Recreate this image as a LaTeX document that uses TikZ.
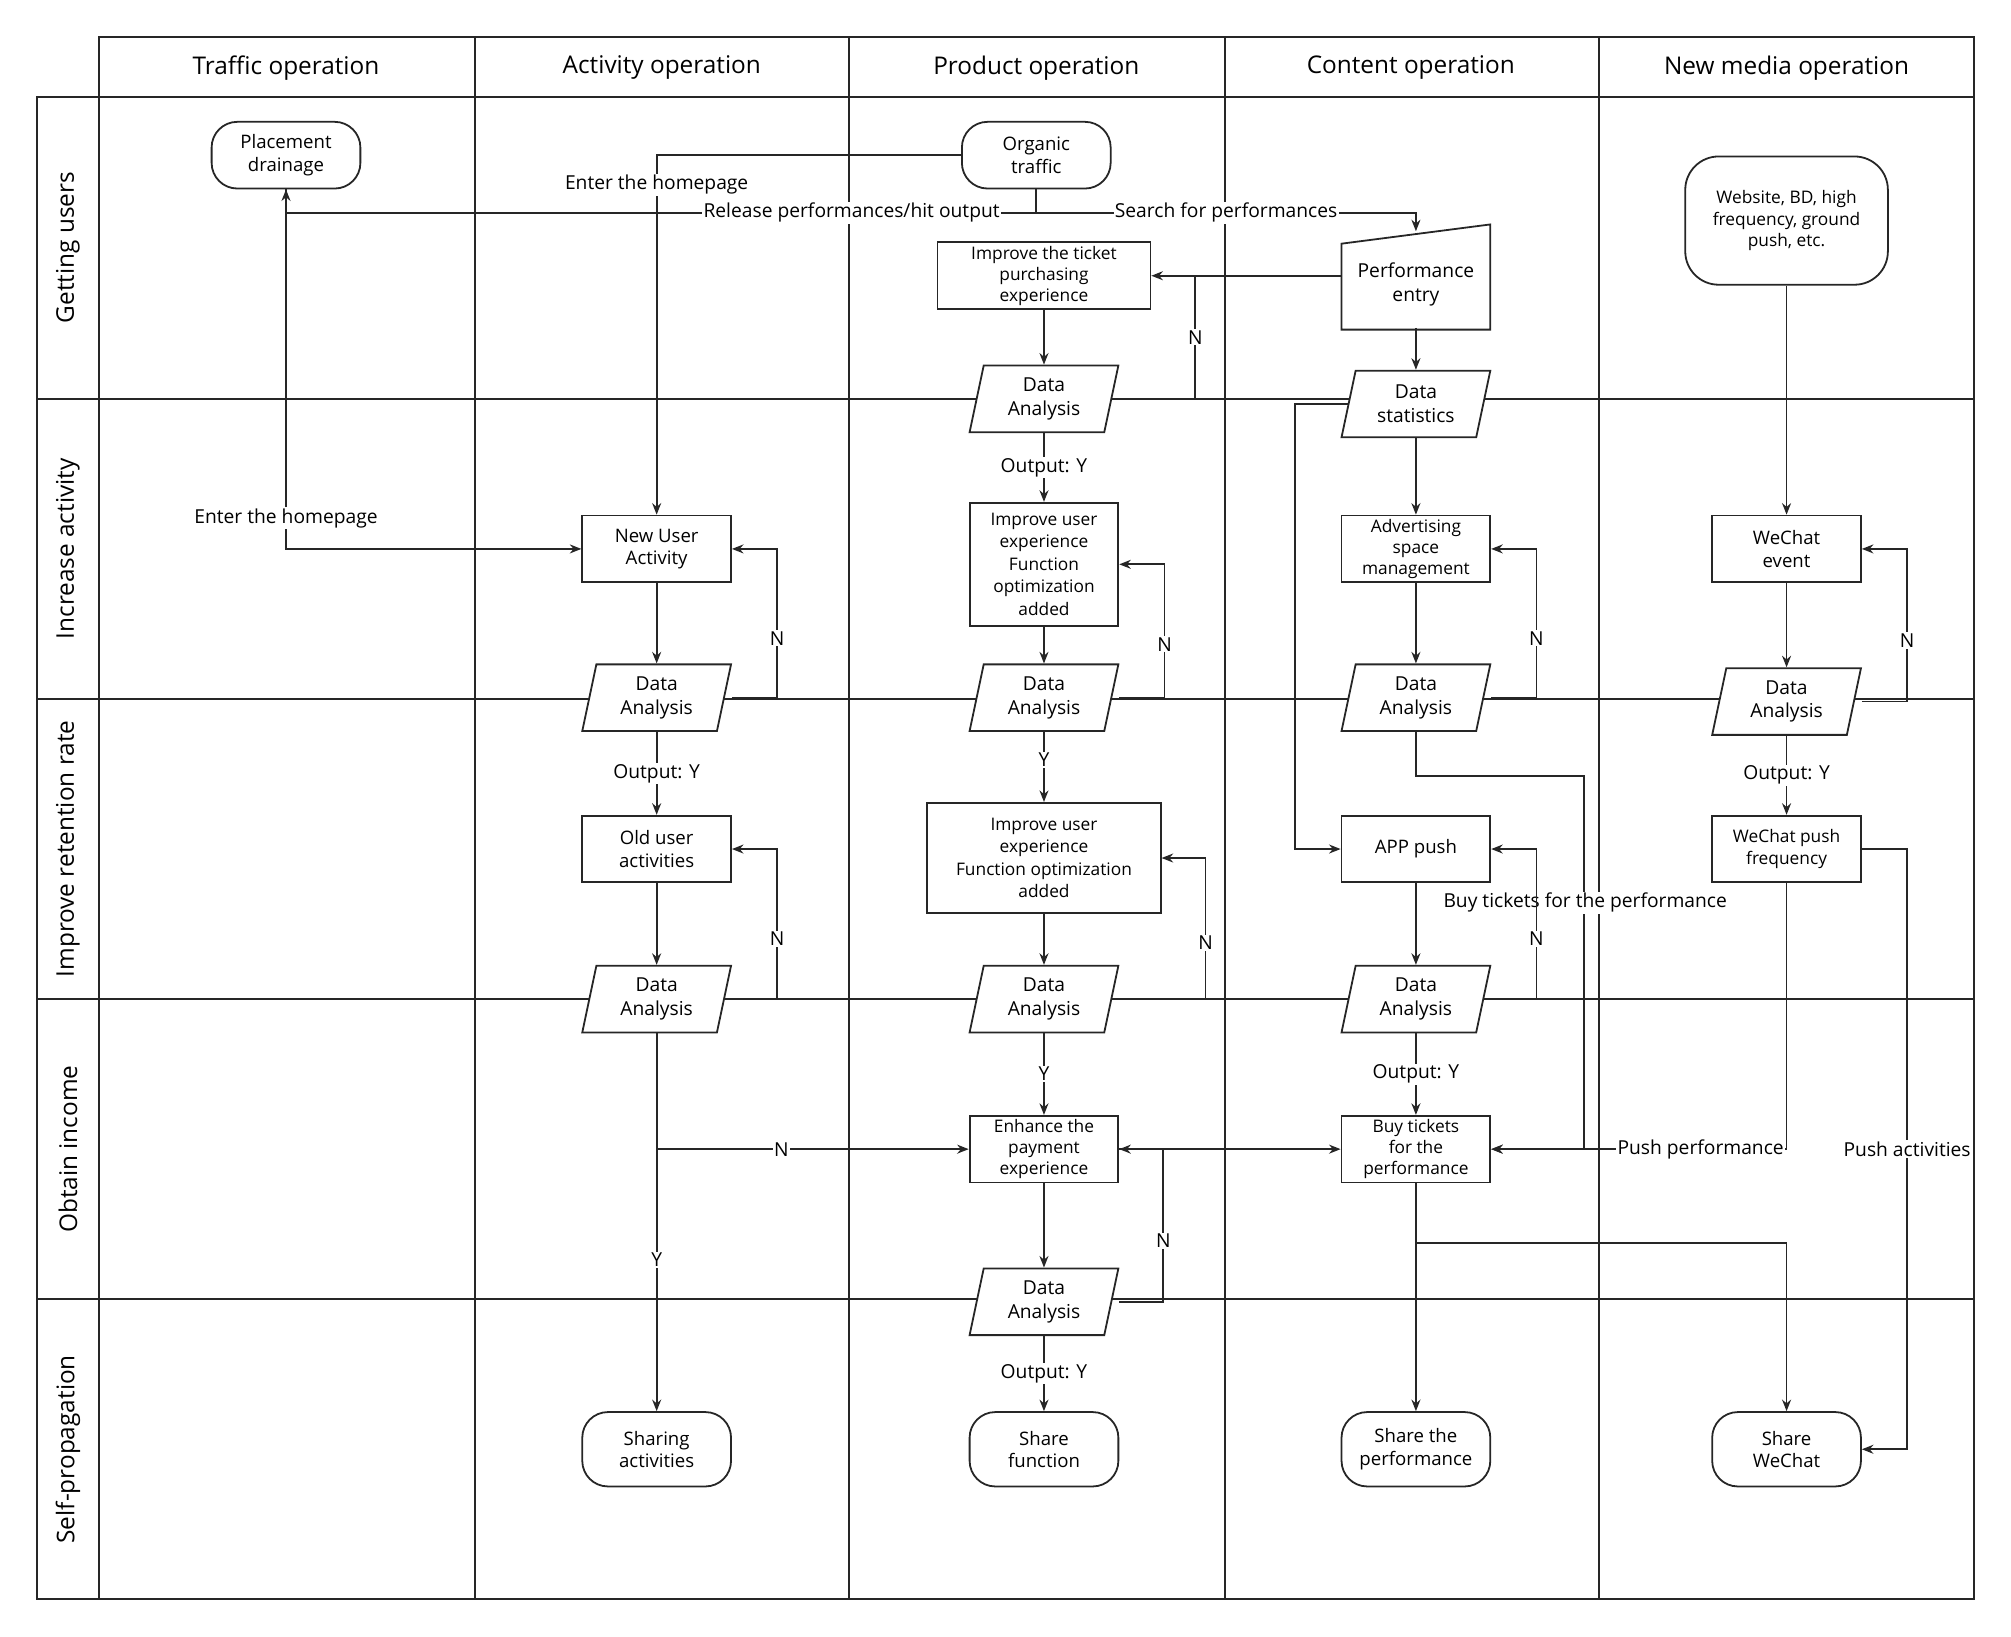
\documentclass[tikz,border=0pt]{standalone}
\usepackage{fontspec}
\setmainfont{Open Sans}
\usetikzlibrary{arrows.meta}
\begin{document}
\begin{tikzpicture}[x=1pt,y=-1pt,
  line width=1.4pt, draw={black!85},
  box/.style={draw,line width=1.4pt,minimum width=116pt,minimum height=52pt,align=center,inner sep=1pt,font=\fontsize{14.5}{17.5}\selectfont},
  term/.style={box,rounded corners=20pt},
  ghost/.style={minimum width=116pt,minimum height=52pt,align=center,inner sep=0pt,font=\fontsize{15}{18.5}\selectfont},
  arr/.style={-{Stealth[length=9pt,width=7pt]},line width=1.4pt},
  lab/.style={fill=white,inner sep=1pt,font=\fontsize{15}{18}\selectfont},
  hdr/.style={font=\fontsize{19}{22}\selectfont},
]
\useasboundingbox (0,0) rectangle (1568,1276);
% grid
\draw[line width=1.6pt] (77,29) rectangle (1539,1247);
\draw[line width=1.6pt] (29,76) rectangle (77,1247);
\foreach \x in {370,662,955,1247} \draw[line width=1.6pt] (\x,29) -- (\x,1247);
\foreach \y in {76,311,545,779,1013} \draw[line width=1.6pt] (29,\y) -- (1539,\y);
\node[hdr] (h1) at (223,53) {Traffic operation};
\node[hdr] (h2) at (516,53) {Activity operation};
\node[hdr] (h3) at (808,53) {Product operation};
\node[hdr] (h4) at (1100,53) {Content operation};
\node[hdr] (h5) at (1393,53) {New media operation};
\foreach \y/\t/\n in {193/Getting users/r1,428/Increase activity/r2,662/Improve retention rate/r3,896/Obtain income/r4,1130/Self-propagation/r5}
  \node[hdr,rotate=90] (\n) at (53,\y) {\t};
\newcommand{\para}[4]{%
  \draw[line width=1.4pt,fill=white] (#2-47,#3-26) -- (#2+58,#3-26) -- (#2+47,#3+26) -- (#2-58,#3+26) -- cycle;
  \node[ghost] (#1) at (#2,#3) {#4};}
% nodes
\node[term] (pd) at (223,121) {Placement\\drainage};
\node[term] (ot) at (808,121) {Organic\\traffic};
\node[box,rounded corners=26pt,minimum width=158pt,minimum height=100pt,font=\fontsize{13.5}{16.5}\selectfont] (web) at (1393,172) {Website, BD, high\\frequency, ground\\push, etc.};
\node[box,minimum width=166pt,font=\fontsize{13.5}{16.5}\selectfont] (itp) at (814,215) {Improve the ticket\\purchasing\\experience};
\draw[line width=1.4pt] (1046,190) -- (1162,175) -- (1162,257) -- (1046,257) -- cycle;
\node[ghost,minimum height=74pt] (pe) at (1104,218) {\\Performance\\entry};
\para{da1}{814}{311}{Data\\Analysis}
\para{ds}{1104}{315}{Data\\statistics}
\node[box] (nua) at (512,428) {New User\\Activity};
\node[box,minimum height=96pt,font=\fontsize{13.5}{17.5}\selectfont] (iue1) at (814,440) {Improve user\\experience\\Function\\optimization\\added};
\node[box,font=\fontsize{13.5}{16.5}\selectfont] (asm) at (1104,428) {Advertising\\space\\management};
\node[box] (wce) at (1393,428) {WeChat\\event};
\para{da2}{512}{544}{Data\\Analysis}
\para{da3}{814}{544}{Data\\Analysis}
\para{da4}{1104}{544}{Data\\Analysis}
\para{da5}{1393}{547}{Data\\Analysis}
\node[box] (oua) at (512,662) {Old user\\activities};
\node[box,minimum width=182pt,minimum height=86pt,font=\fontsize{13.5}{17.5}\selectfont] (iue2) at (814,669) {Improve user\\experience\\Function optimization\\added};
\node[box] (app) at (1104,662) {APP push};
\node[box,font=\fontsize{13.5}{16.5}\selectfont] (wpf) at (1393,662) {WeChat push\\frequency};
\para{db2}{512}{779}{Data\\Analysis}
\para{db3}{814}{779}{Data\\Analysis}
\para{db4}{1104}{779}{Data\\Analysis}
\node[box,font=\fontsize{13.5}{16.5}\selectfont] (epe) at (814,896) {Enhance the\\payment\\experience};
\node[box,font=\fontsize{13.5}{16.5}\selectfont] (btp) at (1104,896) {Buy tickets\\for the\\performance};
\para{dc3}{814}{1015}{Data\\Analysis}
\node[term,minimum height=58pt] (sa) at (512,1130) {Sharing\\activities};
\node[term,minimum height=58pt] (sf) at (814,1130) {Share\\function};
\node[term,minimum height=58pt] (sp) at (1104,1130) {Share the\\performance};
\node[term,minimum height=58pt] (sw) at (1393,1130) {Share\\WeChat};
\coordinate (o1) at (808,166);
% edges
\draw[arr] (ot.west) -| (nua.north);
\node[lab] (l0) at (512,144) {Enter the homepage};
\draw[arr] (ot.south) -- (o1) -| (pd.south);
\node[lab] (l1) at (664,166) {Release performances/hit output};
\draw[arr] (o1) -| (pe.north);
\node[lab] (l2) at (956,166) {Search for performances};
\draw[arr] (pd.south) |- (nua.west);
\node[lab] (l4) at (223,404) {Enter the homepage};
\draw[arr] (itp.east -| pe.west) -- (itp.east);
\draw[arr] (itp) -- (da1);
\draw (da1.east) -- (932,311) -- node[lab] {N} (932,215);
\draw[arr] (pe.south) -- (ds.north);
\draw[arr] (da1) -- node[lab] {Output: Y} (iue1);
\draw[arr] (ds) -- (asm);
\draw[arr] (1052,315) -- (1010,315) |- (app.west);
\draw[arr] (web) -- (wce);
\draw[arr] (nua) -- (da2);
\draw[arr] (da2.east) -| node[lab,pos=0.7] {N} (606,428) -- (nua.east);
\draw[arr] (iue1) -- (da3);
\draw[arr] (da3.east) -| node[lab,pos=0.7] {N} (908,440) -- (iue1.east);
\draw[arr] (asm) -- (da4);
\draw[arr] (da4.east) -| node[lab,pos=0.7] {N} (1198,428) -- (asm.east);
\draw[arr] (wce) -- (da5);
\draw[arr] (da5.east) -| node[lab,pos=0.7] {N} (1487,428) -- (wce.east);
\draw[arr] (da2) -- node[lab] {Output: Y} (oua);
\draw[arr] (da3) -- node[lab,pos=0.4] {Y} (iue2);
\draw[arr] (da4.south) -- (1104,605) -- (1235,605) |- (btp.east);
\draw[arr] (da5) -- node[lab] {Output: Y} (wpf);
\draw[arr] (wpf.south) |- (btp.east);
\node[lab] (l5) at (1326,896) {Push performance};
\draw[arr] (wpf.east) -- (1487,662) |- (sw.east);
\node[lab] (l6) at (1487,896) {Push activities};
\draw[arr] (oua) -- (db2);
\draw[arr] (db2.east) -| node[lab,pos=0.7] {N} (606,662) -- (oua.east);
\draw[arr] (iue2) -- (db3);
\draw[arr] (db3.east) -| node[lab,pos=0.7] {N} (940,669) -- (iue2.east);
\draw[arr] (app) -- (db4);
\node[lab] (l3) at (1236,704) {Buy tickets for the performance};
\draw[arr] (db4.east) -| node[lab,pos=0.7] {N} (1198,662) -- (app.east);
\draw[arr] (db2.south) |- node[lab,pos=0.7] {N} (epe.west);
\draw[arr] (db2.south) -- node[lab,pos=0.6] {Y} (sa.north);
\draw[arr] (db3) -- node[lab] {Y} (epe);
\draw[arr] (db4) -- node[lab] {Output: Y} (btp);
\draw[arr] (epe) -- (dc3);
\draw[arr] (dc3.east) -| node[lab,pos=0.7] {N} (907,896) -- (epe.east);
\draw[arr] (epe.east) -- (btp.west);
\draw[arr] (dc3) -- node[lab] {Output: Y} (sf);
\draw[arr] (btp) -- (sp);
\draw[arr] (1104,969) -| (sw.north);
\end{tikzpicture}
\end{document}
